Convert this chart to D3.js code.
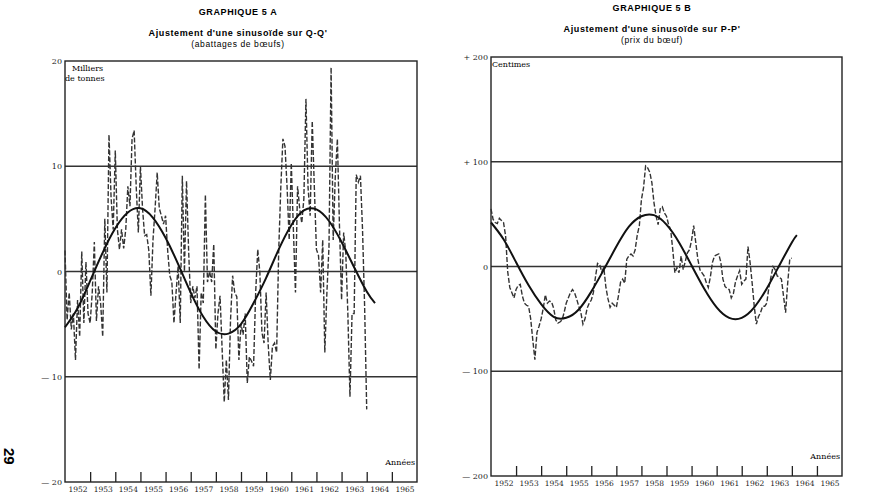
<!DOCTYPE html>
<html><head><meta charset="utf-8">
<script src="https://cdn.jsdelivr.net/npm/d3@7/dist/d3.min.js"></script>
<style>
html,body{margin:0;padding:0;background:#fff;}
svg{display:block;}
</style></head>
<body>
<script>
// ---------- DATA ----------
const years = d3.range(1952, 1966);               // year labels 1952..1965
const tickYears = d3.range(1953, 1966);           // year-boundary ticks
const startYear = 1952;

// Panel A: Q-Q' monthly deviations (milliers de tonnes), Jan 1952 .. Jan 1964
const qDeviation = [
 2.0,-4.6,-2.0,-5.5,-4.0,-8.4,-2.7,-6.2,1.9,-4.9,0.9,-4.0,
 -4.9,-2.0,2.8,-4.7,-1.4,-3.0,-6.2,5.0,-2.0,13.0,7.0,4.0,
 11.5,4.0,2.1,4.0,2.2,4.0,8.1,6.2,12.6,13.4,8.0,3.7,
 10.0,6.0,3.4,3.5,2.0,-2.3,3.0,6.0,9.4,6.0,5.3,4.5,
 5.3,2.0,-0.4,-1.0,-4.9,-2.0,0.5,-4.9,9.1,0.0,8.6,2.0,
 -3.0,-1.4,-2.5,-1.4,-9.3,-2.0,-3.0,7.3,-1.0,0.0,-1.0,2.6,
 -7.4,-4.0,-2.3,-7.4,-12.4,-8.4,-12.2,-4.6,-0.4,-2.0,-2.4,-8.4,
 -5.0,-6.0,-4.0,-10.6,-8.1,-8.5,-9.0,-2.0,2.1,-0.1,-5.8,-6.8,
 -2.0,-7.0,-10.3,-7.1,-6.8,-7.7,2.0,8.0,12.6,11.9,8.0,3.0,
 10.3,4.0,-2.0,8.1,6.0,4.6,6.9,16.4,8.0,5.3,14.3,8.0,
 2.1,1.5,-2.0,3.0,-7.7,-2.0,2.4,19.4,3.0,9.0,12.6,4.3,
 -2.7,3.7,1.8,-4.0,-11.9,-4.0,-4.0,9.2,8.5,9.1,4.0,-3.3,
 -13.1
];
// Panel A: fitted sinusoid, read at half-year points
const qSineYears = [1952.0,1952.5,1953.0,1953.5,1954.0,1954.5,1955.0,1955.5,1956.0,1956.5,1957.0,1957.5,1958.0,1958.5,1959.0,1959.5,1960.0,1960.5,1961.0,1961.5,1962.0,1962.5,1963.0,1963.5,1964.0,1964.33];
const qSineValues = [-5.3,-3.5,-0.9,1.8,4.1,5.6,6.0,5.1,3.2,0.7,-2.0,-4.3,-5.7,-5.9,-5.0,-3.0,-0.6,2.1,4.4,5.8,5.9,4.8,2.8,0.4,-1.9,-3.0];

// Panel B: P-P' monthly deviations (centimes), Jan 1952 .. Jan 1964
const pDeviation = [
 55,45,42,41,46,44,42,29,-5,-20,-25,-30,
 -22,-18,-17,-28,-35,-37,-38,-50,-70,-89,-63,-57,
 -50,-40,-27,-35,-33,-34,-40,-51,-54,-53,-51,-44,
 -35,-30,-25,-22,-25,-31,-38,-44,-55,-50,-40,-35,
 -32,-25,-10,3,2,-5,-1,-20,-31,-39,-35,-37,
 -39,-28,-15,-12,-16,7,10,12,10,16,30,39,
 64,75,96,94,90,80,61,48,40,55,57,51,
 48,40,35,16,-6,-1,-6,10,-3,5,13,16,
 25,39,23,7,-3,-6,-9,-15,-20,-10,4,10,
 11,12,4,-12,-19,-21,-22,-30,-26,-15,-9,-4,
 -17,-14,-12,19,4,-16,-38,-55,-48,-44,-38,-38,
 -35,-20,-10,0,-3,-9,-10,-12,-28,-44,-16,7,
 8
];
const pSineYears = [1952.0,1952.5,1953.0,1953.5,1954.0,1954.5,1955.0,1955.5,1956.0,1956.5,1957.0,1957.5,1958.0,1958.5,1959.0,1959.5,1960.0,1960.5,1961.0,1961.5,1962.0,1962.5,1963.0,1963.5,1964.0,1964.2];
const pSineValues = [42,26,4,-18,-36,-48,-49,-41,-24,-3,19,38,48,49,40,23,1,-21,-39,-49,-49,-39,-21,1,23,30];

// axis tick labels
const qTicks = [20,10,0,-10,-20];
const qTickLabels = ["20","10","0","— 10","— 20"];
const pTicks = [200,100,0,-100,-200];
const pTickLabels = ["+ 200","+ 100","0","— 100","— 200"];

// ---------- DRAW ----------
const W = 874, H = 496;
const svg = d3.select("body").append("svg").attr("width", W).attr("height", H);
const serif = "'DejaVu Serif', 'Liberation Serif', serif";
const sans = "'Liberation Sans', Arial, sans-serif";

function panel(o) {
  const x = d3.scaleLinear().domain([1952, 1966]).range([o.left, o.right]);
  const y = d3.scaleLinear().domain([o.min, o.max]).range([o.bottom, o.top]);
  const g = svg.append("g");

  // titles
  const cx = o.titleX;
  g.append("text").attr("x", cx).attr("y", o.titleY).attr("text-anchor","middle")
    .style("font-family", sans).style("font-weight","bold").style("font-size","9px")
    .style("letter-spacing","0.6px").text(o.title1);
  g.append("text").attr("x", cx).attr("y", o.titleY + 21).attr("text-anchor","middle")
    .style("font-family", sans).style("font-weight","bold").style("font-size","9px")
    .style("letter-spacing","0.6px").text(o.title2);
  g.append("text").attr("x", cx).attr("y", o.titleY + 32).attr("text-anchor","middle")
    .style("font-family", sans).style("font-size","8.5px").style("letter-spacing","0.6px").text(o.title3);

  // grid lines
  g.selectAll("line.grid").data(o.grid).enter().append("line")
    .attr("x1", o.left).attr("x2", o.right)
    .attr("y1", d => y(d)).attr("y2", d => y(d))
    .attr("stroke", "#333").attr("stroke-width", 1.3);

  // frame
  g.append("rect").attr("x", o.left).attr("y", o.top)
    .attr("width", o.right - o.left).attr("height", o.bottom - o.top)
    .attr("fill", "none").attr("stroke", "#222").attr("stroke-width", 1.4);

  // y axis labels
  const ya = d3.axisLeft(y).tickValues(o.ticks).tickSize(0).tickPadding(3)
    .tickFormat((d, i) => o.tickLabels[o.ticks.indexOf(d)]);
  const yg = g.append("g").attr("transform", `translate(${o.left},0)`).call(ya);
  yg.select(".domain").remove();
  yg.selectAll("text").style("font-family", serif).style("font-size","8px").attr("fill","#222");

  // x axis: ticks at year boundaries (upward)
  const xt = d3.axisBottom(x).tickValues(tickYears).tickSize(-10).tickFormat("");
  const xg = g.append("g").attr("transform", `translate(0,${o.bottom})`).call(xt);
  xg.select(".domain").remove();
  xg.selectAll("line").attr("stroke","#222").attr("stroke-width",1.3);
  // x labels at mid-year
  const xl = d3.axisBottom(x).tickValues(years.map(v => v + 0.5)).tickSize(0).tickPadding(5)
    .tickFormat(d => String(Math.floor(d)));
  const xlg = g.append("g").attr("transform", `translate(0,${o.bottom})`).call(xl);
  xlg.select(".domain").remove();
  xlg.selectAll("text").style("font-family", serif).style("font-size","7.5px").attr("fill","#222");

  g.append("text").attr("x", o.right - 2).attr("y", o.bottom - 17).attr("text-anchor","end")
    .style("font-family", serif).style("font-size","8px").text("Années");

  // unit label
  o.unit.forEach((u, i) => {
    g.append("text").attr("x", o.left + u.dx).attr("y", o.top + 10 + i * 10)
      .style("font-family", serif).style("font-size","8px").text(u.t);
  });

  // dashed observed series
  const line = d3.line().x((d, i) => x(startYear + i / 12)).y(d => y(d));
  g.append("path").datum(o.series).attr("d", line)
    .attr("fill","none").attr("stroke","#333").attr("stroke-width",1.4)
    .attr("stroke-dasharray","5,2");

  // sinusoid
  const sine = d3.line().x(d => x(d[0])).y(d => y(d[1])).curve(d3.curveNatural);
  g.append("path").datum(o.sineYears.map((t, i) => [t, o.sineValues[i]])).attr("d", sine)
    .attr("fill","none").attr("stroke","#111").attr("stroke-width",2);
}

panel({
  left: 65, right: 417, top: 61, bottom: 482, min: -20, max: 20,
  titleX: 238, titleY: 15,
  title1: "GRAPHIQUE 5 A",
  title2: "Ajustement d'une sinusoïde sur Q-Q'",
  title3: "(abattages de bœufs)",
  grid: [10, 0, -10], ticks: qTicks, tickLabels: qTickLabels,
  unit: [{t:"Milliers", dx: 7}, {t:"de tonnes", dx: 0}],
  series: qDeviation, sineYears: qSineYears, sineValues: qSineValues
});

panel({
  left: 491, right: 842, top: 57, bottom: 476, min: -200, max: 200,
  titleX: 652, titleY: 11,
  title1: "GRAPHIQUE 5 B",
  title2: "Ajustement d'une sinusoïde sur P-P'",
  title3: "(prix du bœuf)",
  grid: [100, 0, -100], ticks: pTicks, tickLabels: pTickLabels,
  unit: [{t:"Centimes", dx: 1}],
  series: pDeviation, sineYears: pSineYears, sineValues: pSineValues
});

// page number
svg.append("text").attr("transform","translate(4,448) rotate(90)")
  .style("font-family", sans).style("font-weight","bold").style("font-size","15px").text("29");
</script>
</body></html>
